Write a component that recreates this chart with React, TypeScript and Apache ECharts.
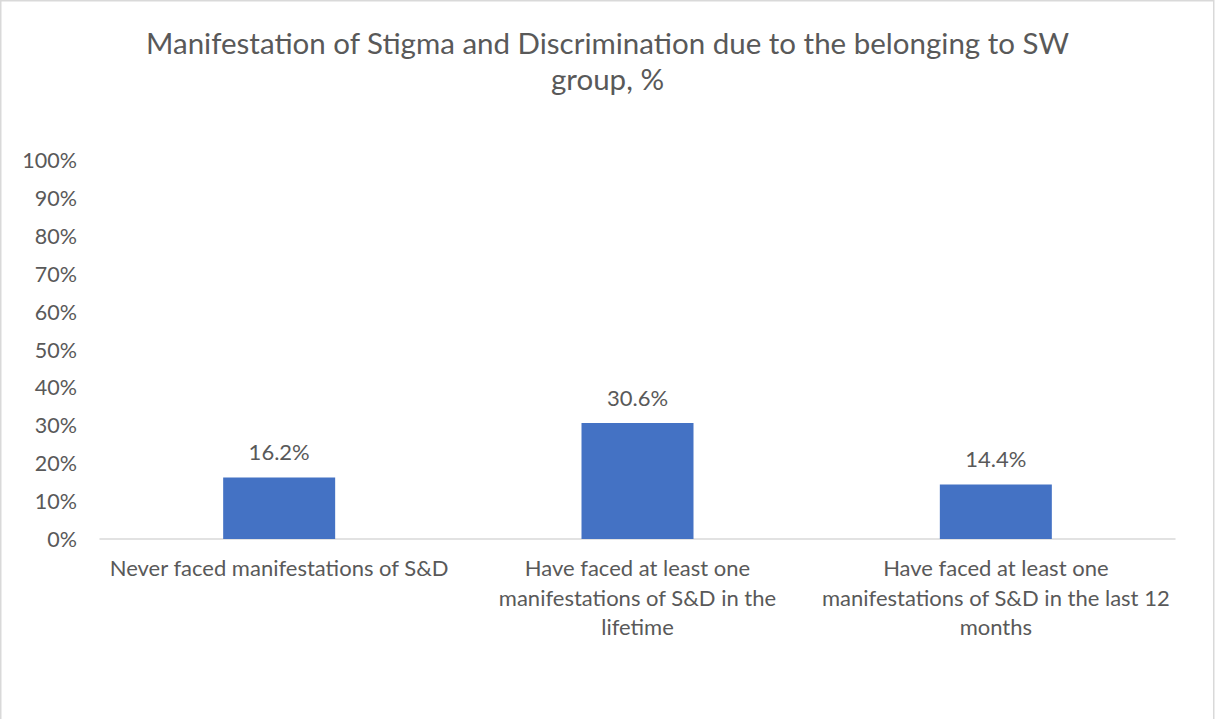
import React, { useEffect, useRef } from "react";
import * as echarts from "echarts";

const titleText = "Manifestation of Stigma and Discrimination due to the belonging to SW\ngroup, %";
const categories = [
  "Never faced manifestations of S&D",
  "Have faced at least one\nmanifestations of S&D in the\nlifetime",
  "Have faced at least one\nmanifestations of S&D in the last 12\nmonths",
];
const values = [16.2, 30.6, 14.4];

const FONT = "Lato, 'Open Sans', sans-serif";
const TXT = "#595959";

export default function App() {
  const ref = useRef<HTMLDivElement>(null);
  useEffect(() => {
    if (!ref.current) return;
    const chart = echarts.init(ref.current, null, { renderer: "svg" });
    chart.setOption({
      animation: false,
      backgroundColor: "#ffffff",
      textStyle: { fontFamily: FONT },
      title: {
        text: titleText,
        left: "center",
        top: 19,
        textStyle: {
          fontFamily: FONT,
          fontSize: 29.5,
          fontWeight: "normal",
          color: TXT,
          lineHeight: 36,
        },
      },
      graphic: [
        {
          type: "rect",
          shape: { x: 0.75, y: 0.75, width: 1213, height: 730 },
          style: { fill: "none", stroke: "#d9d9d9", lineWidth: 1.5 },
          silent: true,
        },
      ],
      grid: { left: 100, right: 40, top: 160, bottom: 180, containLabel: false },
      xAxis: {
        type: "category",
        data: categories,
        axisLine: { show: true, lineStyle: { color: "#d9d9d9", width: 1.5 } },
        axisTick: { show: false },
        axisLabel: {
          color: TXT,
          fontFamily: FONT,
          fontSize: 22,
          lineHeight: 29.5,
          margin: 14,
          interval: 0,
        },
      },
      yAxis: {
        type: "value",
        min: 0,
        max: 100,
        interval: 10,
        splitLine: { show: false },
        axisLine: { show: false },
        axisTick: { show: false },
        axisLabel: {
          color: TXT,
          fontFamily: FONT,
          fontSize: 21.5,
          margin: 23,
          formatter: (v: number) => v + "%",
        },
      },
      series: [
        {
          type: "bar",
          data: values,
          barWidth: 112,
          itemStyle: { color: "#4472C4" },
          label: {
            show: true,
            position: "top",
            distance: 15,
            color: TXT,
            fontFamily: FONT,
            fontSize: 22,
            formatter: (p: any) => p.value.toFixed(1) + "%",
          },
        },
      ],
    });
    return () => chart.dispose();
  }, []);
  return (
    <div
      ref={ref}
      style={{ position: "absolute", left: 0, top: 0, width: 1215, height: 719 }}
    />
  );
}
